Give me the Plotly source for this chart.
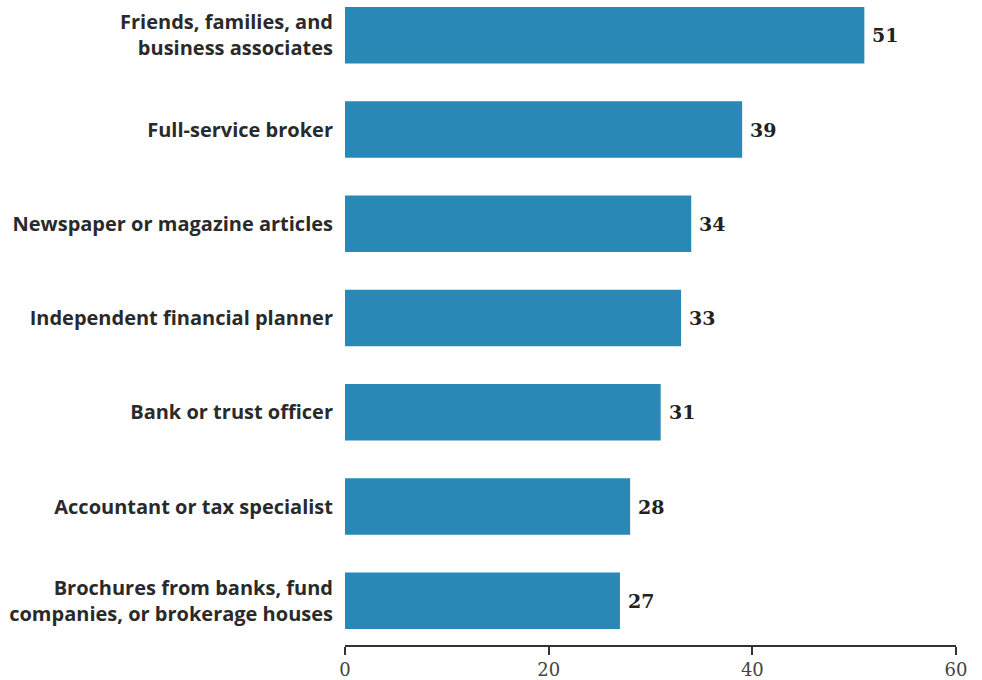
import plotly.graph_objects as go

# Survey: sources of investment information (percent of respondents)
categories = [
    "Friends, families, and<br>business associates",
    "Full-service broker",
    "Newspaper or magazine articles",
    "Independent financial planner",
    "Bank or trust officer",
    "Accountant or tax specialist",
    "Brochures from banks, fund<br>companies, or brokerage houses",
]
values = [51, 39, 34, 33, 31, 28, 27]
x_ticks = [0, 20, 40, 60]

fig = go.Figure(
    go.Bar(
        x=values,
        y=categories,
        orientation="h",
        width=0.6,
        marker=dict(color="#2988b6", line=dict(width=0)),
        hoverinfo="x+y",
    )
)

# value labels just past the end of each bar
for cat, v in zip(categories, values):
    fig.add_annotation(
        x=v,
        y=cat,
        text=str(v),
        showarrow=False,
        xanchor="left",
        yanchor="middle",
        xshift=6,
        font=dict(family="DejaVu Serif", size=19, color="#222222", weight="bold"),
    )

fig.update_layout(
    width=982,
    height=680,
    margin=dict(l=345, r=26, t=0, b=31),
    paper_bgcolor="white",
    plot_bgcolor="white",
    showlegend=False,
    xaxis=dict(
        range=[0, 60],
        tickvals=x_ticks,
        ticks="outside",
        ticklen=8,
        tickwidth=1.5,
        tickcolor="#333333",
        showline=True,
        linecolor="#333333",
        linewidth=1.5,
        showgrid=False,
        zeroline=False,
        tickfont=dict(family="DejaVu Serif", size=18, color="#444444"),
    ),
    yaxis=dict(
        type="category",
        categoryorder="array",
        categoryarray=categories,
        range=[6.469, -0.374],
        showline=False,
        showgrid=False,
        ticks="",
        ticklabelstandoff=11,
        tickfont=dict(family="Open Sans", size=20, color="#2a2a2a", weight="bold"),
    ),
)

fig.write_html("out.html")
